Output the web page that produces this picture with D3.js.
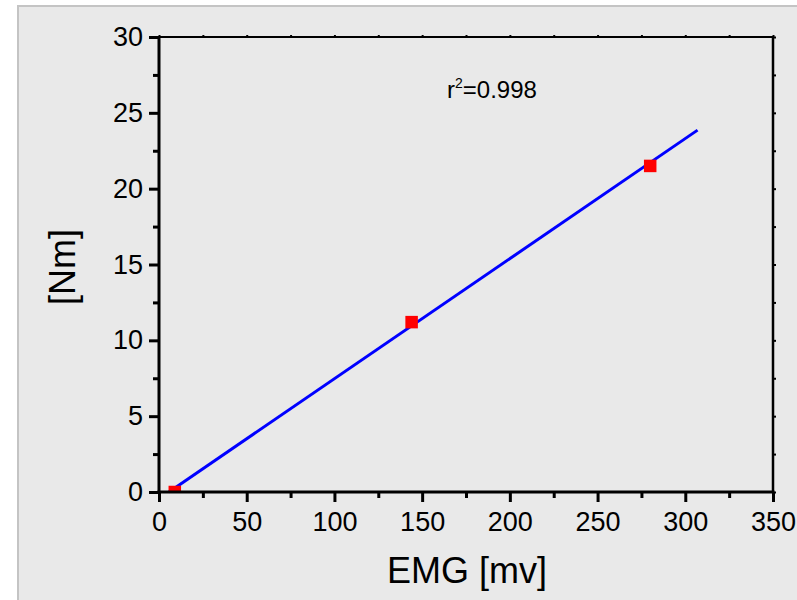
<!DOCTYPE html>
<html>
<head>
<meta charset="utf-8">
<script src="https://cdn.jsdelivr.net/npm/d3@7"></script>
<style>
html,body{margin:0;padding:0;background:#fff;}
svg{display:block;}
text{font-family:"Liberation Sans",Arial,sans-serif;fill:#000;}
</style>
</head>
<body>
<svg id="chart" width="797" height="600"></svg>
<script>
// Data
const pointsX = [9, 144, 280];
const pointsY = [0, 11.2, 21.5];
const fitX = [5.7, 307];
const fitY = [0, 23.86];
const xTicks = [0, 50, 100, 150, 200, 250, 300, 350];
const yTicks = [0, 5, 10, 15, 20, 25, 30];
const xMinor = [25, 75, 125, 175, 225, 275, 325];
const yMinor = [2.5, 7.5, 12.5, 17.5, 22.5, 27.5];
const xTitle = "EMG [mv]";
const yTitle = "[Nm]";
const annotation = {base: "r", sup: "2", rest: "=0.998"};

const svg = d3.select("#chart");
// panel background
svg.append("rect").attr("x",17).attr("y",5).attr("width",780).attr("height",595).attr("fill","#e9e9e9");
svg.append("rect").attr("x",17).attr("y",5).attr("width",2).attr("height",595).attr("fill","#c4c4c4");
svg.append("rect").attr("x",17).attr("y",5).attr("width",780).attr("height",2).attr("fill","#c4c4c4");

const L=159, R=773, T=37, B=492;
const x = d3.scaleLinear().domain([0,350]).range([L,R]);
const y = d3.scaleLinear().domain([0,30]).range([B,T]);

// top & right frame with tiny ticks
svg.append("line").attr("x1",L).attr("x2",R).attr("y1",T).attr("y2",T).attr("stroke","#000").attr("stroke-width",2);
svg.append("line").attr("x1",R).attr("x2",R).attr("y1",T).attr("y2",B).attr("stroke","#000").attr("stroke-width",2.5);
const topAx = svg.append("g").attr("transform",`translate(0,${T})`)
  .call(d3.axisTop(x).tickValues(xTicks.concat(xMinor)).tickSize(2).tickFormat(""));
topAx.select(".domain").remove();
topAx.selectAll("line").attr("stroke-width",2);
const rightAx = svg.append("g").attr("transform",`translate(${R},0)`)
  .call(d3.axisRight(y).tickValues(yTicks.concat(yMinor)).tickSize(3).tickFormat(""));
rightAx.select(".domain").remove();
rightAx.selectAll("line").attr("stroke-width",2);

// fit line
svg.append("path")
  .datum(fitX.map((d,i)=>[d,fitY[i]]))
  .attr("d", d3.line().x(d=>x(d[0])).y(d=>y(d[1])))
  .attr("stroke","#0000ff").attr("stroke-width",3).attr("fill","none");

// points (clipped at x axis)
svg.append("clipPath").attr("id","clip").append("rect").attr("x",L).attr("y",T).attr("width",R-L).attr("height",B-T);
const s = 12.5;
svg.append("g").attr("clip-path","url(#clip)").selectAll("rect.pt")
  .data(pointsX.map((d,i)=>[d,pointsY[i]]))
  .enter().append("rect")
  .attr("x",d=>x(d[0])-s/2).attr("y",d=>y(d[1])-s/2)
  .attr("width",s).attr("height",s).attr("fill","#ff0000");

// bottom axis
const bAx = svg.append("g").attr("transform",`translate(0,${B})`)
  .call(d3.axisBottom(x).tickValues(xTicks).tickSize(10).tickPadding(10));
bAx.select(".domain").attr("stroke-width",3).attr("d",`M${L-1.5},0H${R+1.5}`);
bAx.selectAll(".tick line").attr("stroke-width",3);
bAx.selectAll("text").attr("font-size",27).attr("fill","#000");
const bMin = svg.append("g").attr("transform",`translate(0,${B})`)
  .call(d3.axisBottom(x).tickValues(xMinor).tickSize(6).tickFormat(""));
bMin.select(".domain").remove();
bMin.selectAll("line").attr("stroke-width",3);

// left axis
const lAx = svg.append("g").attr("transform",`translate(${L},0)`)
  .call(d3.axisLeft(y).tickValues(yTicks).tickSize(10).tickPadding(6));
lAx.select(".domain").attr("stroke-width",3).attr("d",`M0,${B+1.5}V${T-1}`);
lAx.selectAll(".tick line").attr("stroke-width",3);
lAx.selectAll("text").attr("font-size",27).attr("fill","#000");
const lMin = svg.append("g").attr("transform",`translate(${L},0)`)
  .call(d3.axisLeft(y).tickValues(yMinor).tickSize(6).tickFormat(""));
lMin.select(".domain").remove();
lMin.selectAll("line").attr("stroke-width",3);

// titles
svg.append("text").attr("x",467).attr("y",583).attr("text-anchor","middle")
  .attr("font-size",36).text(xTitle);
svg.append("text").attr("transform","translate(75,267) rotate(-90)").attr("text-anchor","middle")
  .attr("font-size",36).text(yTitle);

// annotation
const ann = svg.append("text").attr("x",447).attr("y",98).attr("font-size",24);
ann.append("tspan").text(annotation.base);
ann.append("tspan").attr("dy",-10).attr("font-size",14).text(annotation.sup);
ann.append("tspan").attr("dy",10).text(annotation.rest);
</script>
</body>
</html>
